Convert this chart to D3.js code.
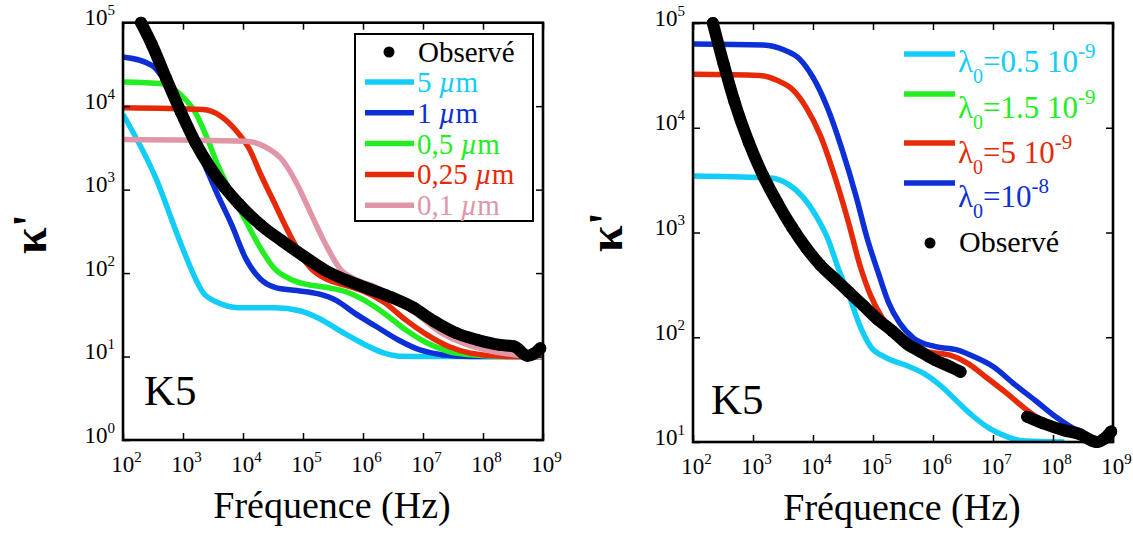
<!DOCTYPE html>
<html><head><meta charset="utf-8">
<script src="https://cdn.jsdelivr.net/npm/d3@7"></script>
<style>
html,body{margin:0;padding:0;background:#fff;}
svg{display:block;}
svg text{font-family:"Liberation Serif","DejaVu Serif","Times New Roman",Times,serif;}
</style></head>
<body><svg id="chart" width="1133" height="533"></svg>
<script>
// ---------- data ----------
const freqTicks = [1e2,1e3,1e4,1e5,1e6,1e7,1e8,1e9];
const freqExp = [2,3,4,5,6,7,8,9];
const leftYTicks = [1,10,100,1e3,1e4,1e5];
const leftYExp = [0,1,2,3,4,5];
const rightYTicks = [10,100,1e3,1e4,1e5];
const rightYExp = [1,2,3,4,5];
const xLabel = "Fréquence (Hz)";
const yLabel = "κ'";
const panelTag = "K5";

// Left panel: grain size series [frequency Hz, κ']
const leftNames = ["5", "1", "0,5", "0,25", "0,1"];
const leftColors = ["#12cdf8", "#0c2fd6", "#22ee22", "#e62a08", "#e096a8"];
const left5um = [[100,8000],[347,1410],[933,219],[1620,85.1],[2140,58.9],[3720,44.7],[8510,38.5],[33900,38.5],[91200,35.1],[182000,28.8],[479000,19.1],[955000,14.5],[2.24e6,11],[3.89e6,10.1],[1.55e7,10],[1e9,10]];
const left1um = [[100,38900],[302,30900],[603,16200],[1230,5750],[2140,2240],[3720,891],[6460,380],[11200,148],[19500,85.1],[33900,67.6],[79400,61.7],[182000,56.2],[363000,46.8],[724000,33.1],[1.66e6,22.9],[3.89e6,15.8],[8.91e6,12],[2.04e7,10.5],[6.17e7,10],[1e9,10]];
const left05um = [[100,19500],[457,18600],[933,13500],[1620,8320],[2450,4370],[3720,2040],[6460,891],[11200,417],[19500,200],[33900,112],[60300,85.1],[105000,74.1],[240000,67.6],[550000,58.9],[955000,49],[2.24e6,33.1],[5.13e6,20.9],[1.17e7,14.5],[2.69e7,11.5],[6.17e7,10.5],[2.51e8,10],[1e9,10]];
const left025um = [[100,9550],[2140,9120],[4270,7590],[7410,5250],[12900,3020],[19500,1550],[33900,676],[60300,288],[91200,166],[138000,112],[240000,85.1],[417000,74.1],[955000,61.7],[2.24e6,44.7],[5.13e6,27.5],[1.17e7,18.2],[2.69e7,13.2],[6.17e7,11],[2.51e8,10],[1e9,10]];
const left01um = [[100,3980],[11200,3800],[22400,3310],[45700,2240],[79400,1170],[138000,501],[240000,219],[417000,112],[724000,85.1],[1.66e6,67.6],[3.89e6,49],[8.91e6,30.2],[2.04e7,19.1],[4.68e7,14.5],[1.1e8,12],[3.31e8,10.5],[1e9,10]];
const leftObserved = [[200,1e5],[302,55000],[525,21400],[933,8320],[1620,3630],[2820,1860],[4900,1070],[8510,676],[19500,380],[45700,240],[105000,158],[240000,107],[550000,81.3],[1.26e6,64.6],[2.95e6,51.3],[6.76e6,38.9],[1.55e7,26.3],[3.55e7,19.1],[8.13e7,15.8],[1.91e8,13.8],[3.31e8,13.2],[5.5e8,10.2],[7e8,10.8],[9e8,12.6]];

// Right panel: λ0 series [frequency Hz, κ']
const rightNames = ["0.5 10", "1.5 10", "5 10", "10"];
const rightExps = ["-9", "-9", "-9", "-8"];
const rightColors = ["#12cdf8", "#22ee22", "#e62a08", "#0c2fd6"];
const rightL05 = [[100,3470],[1950,3310],[3890,2880],[6760,2190],[11500,1410],[17400,891],[26300,457],[39800,251],[60300,129],[91200,81.3],[158000,64.6],[363000,53.7],[724000,44.7],[1.45e6,33.1],[2.51e6,24.5],[4.37e6,18.2],[8.71e6,13.5],[1.74e7,11.2],[3.47e7,10.2],[1.55e8,10]];
const rightL5 = [[100,32400],[1290,31600],[2570,28200],[4470,23400],[7760,15500],[13200,8510],[22900,3470],[39800,1200],[60300,490],[91200,251],[138000,158],[209000,117],[363000,87.1],[832000,72.4],[1.91e6,67.6],[3.8e6,56.2],[7.59e6,41.7],[1.74e7,28.8],[3.98e7,19.5],[8.91e7,14.5],[2.04e8,12.6],[4.68e8,10.7],[1e9,10]];
const rightL10 = [[100,63100],[1480,61700],[3390,55000],[5890,45700],[1e4,30200],[17400,15500],[30200,6310],[52500,2190],[79400,891],[120000,427],[182000,214],[275000,138],[479000,97.7],[1.1e6,81.3],[2.51e6,75.9],[5.01e6,64.6],[1e7,52.5],[2.29e7,35.5],[5.25e7,24.5],[1.17e8,17],[2.69e8,12.6],[5.37e8,10.7],[1e9,10]];
const rightObservedA = [[214,1e5],[324,40700],[490,17800],[851,7240],[1480,3470],[2570,1910],[4470,1120],[7760,708],[13200,490],[22900,363],[39800,269],[69200,200],[120000,148],[209000,115],[363000,87.1],[631000,72.4],[1.1e6,60.3],[1.91e6,52.5],[2.88e6,46.8]];
const rightObservedB = [[3.72e7,17.4],[6.76e7,15.1],[1.55e8,12.9],[2.69e8,12],[5.37e8,10],[7.08e8,10.7],[9.33e8,12.6]];

// ---------- drawing ----------
const svg = d3.select("#chart");
const FONT = 'Liberation Serif';

function txt(sel) { return sel.attr("font-family", FONT); }

function drawPanel(p) {
  const x = d3.scaleLog().domain([1e2, 1e9]).range([p.x0, p.x1]);
  const y = d3.scaleLog().domain(p.yDomain).range([p.y1, p.y0]);
  const g = svg.append("g");
  const clipId = "clip" + p.id;
  svg.append("clipPath").attr("id", clipId).append("rect")
    .attr("x", p.x0).attr("y", p.y0).attr("width", p.x1 - p.x0).attr("height", p.y1 - p.y0);

  const line = d3.line().x(d => x(d[0])).y(d => y(d[1])).curve(d3.curveMonotoneX);
  p.series.forEach(s => {
    g.append("path").datum(s.data).attr("d", line).attr("fill", "none")
      .attr("stroke", s.color).attr("stroke-width", 5.5)
      .attr("stroke-linejoin", "round").attr("clip-path", `url(#${clipId})`);
  });
  p.observed.forEach(obs => {
    g.append("path").datum(obs).attr("d", line).attr("fill", "none")
      .attr("stroke", "#000").attr("stroke-width", 12)
      .attr("stroke-linecap", "round").attr("stroke-linejoin", "round");
    g.selectAll(null).data(obs).enter().append("circle")
      .attr("cx", d => x(d[0])).attr("cy", d => y(d[1])).attr("r", 6).attr("fill", "#000");
  });

  const tk = 7;
  const ax = [
    [d3.axisBottom(x).tickValues(freqTicks), `translate(0,${p.y1})`, true],
    [d3.axisTop(x).tickValues(freqTicks), `translate(0,${p.y0})`, false],
  ];
  ax.forEach(([a, tr, lab]) => {
    const ag = g.append("g").attr("transform", tr)
      .call(a.tickSizeInner(-tk).tickSizeOuter(0).tickFormat(""));
    ag.select(".domain").remove();
    ag.selectAll(".tick line").attr("stroke", "#000").attr("stroke-width", 1.5);
    if (lab) {
      const t = txt(ag.selectAll(".tick").append("text")).attr("fill", "#000")
        .attr("y", 32).attr("x", 3).attr("text-anchor", "middle").attr("font-size", 23);
      t.append("tspan").text("10");
      t.append("tspan").attr("dy", -10).attr("font-size", 15).text(d => freqExp[freqTicks.indexOf(d)]);
    }
  });
  const ay = [
    [d3.axisLeft(y).tickValues(p.yTicks), `translate(${p.x0},0)`, true],
    [d3.axisRight(y).tickValues(p.yTicks), `translate(${p.x1},0)`, false],
  ];
  ay.forEach(([a, tr, lab]) => {
    const ag = g.append("g").attr("transform", tr)
      .call(a.tickSizeInner(-tk).tickSizeOuter(0).tickFormat(""));
    ag.select(".domain").remove();
    ag.selectAll(".tick line").attr("stroke", "#000").attr("stroke-width", 1.5);
    if (lab) {
      const t = txt(ag.selectAll(".tick").append("text")).attr("fill", "#000")
        .attr("x", -8).attr("y", 2).attr("text-anchor", "end").attr("font-size", 23);
      t.append("tspan").text("10");
      t.append("tspan").attr("dy", -10).attr("font-size", 15).text(d => p.yExp[p.yTicks.indexOf(d)]);
    }
  });

  g.append("rect").attr("x", p.x0).attr("y", p.y0).attr("width", p.x1 - p.x0).attr("height", p.y1 - p.y0)
    .attr("fill", "none").attr("stroke", "#000").attr("stroke-width", 2.6);

  txt(g.append("text")).attr("x", (p.x0 + p.x1) / 2 - 1).attr("y", p.y1 + 78).attr("text-anchor", "middle")
    .attr("font-size", 38).text(xLabel);
  txt(g.append("text")).attr("transform", `translate(${p.ylx},${p.yly}) rotate(-90)`).attr("text-anchor", "middle")
    .attr("font-size", 48).attr("font-weight", "bold").text(yLabel);
  txt(g.append("text")).attr("x", p.tagX).attr("y", p.tagY).attr("font-size", 43).text(panelTag);
}

const leftData = [left5um, left1um, left05um, left025um, left01um];
drawPanel({
  id: "L", x0: 123, x1: 543, y0: 22.7, y1: 440, yDomain: [1, 1e5],
  yTicks: leftYTicks, yExp: leftYExp,
  series: leftData.map((d, i) => ({data: d, color: leftColors[i]})),
  observed: [leftObserved],
  ylx: 46, yly: 234, tagX: 144, tagY: 405
});
const rightData = [rightL05, rightL5, rightL10];
const rightDataColors = [rightColors[0], rightColors[2], rightColors[3]];
drawPanel({
  id: "R", x0: 693, x1: 1113, y0: 23, y1: 442, yDomain: [10, 1e5],
  yTicks: rightYTicks, yExp: rightYExp,
  series: rightData.map((d, i) => ({data: d, color: rightDataColors[i]})),
  observed: [rightObservedA, rightObservedB],
  ylx: 622, yly: 232, tagX: 711, tagY: 414
});

// ---------- left legend ----------
const lg = svg.append("g");
lg.append("rect").attr("x", 355).attr("y", 34).attr("width", 178).attr("height", 187)
  .attr("fill", "#fff").attr("stroke", "#000").attr("stroke-width", 2);
lg.append("circle").attr("cx", 389).attr("cy", 52).attr("r", 5.5).attr("fill", "#000");
txt(lg.append("text")).attr("x", 418).attr("y", 62).attr("font-size", 29).text("Observé");
leftNames.forEach((n, i) => {
  const by = 92 + i * 30.8;
  lg.append("line").attr("x1", 365).attr("x2", 414).attr("y1", by - 10).attr("y2", by - 10)
    .attr("stroke", leftColors[i]).attr("stroke-width", 5.5);
  const t = txt(lg.append("text")).attr("x", 417).attr("y", by).attr("fill", leftColors[i]).attr("font-size", 29);
  t.append("tspan").text(n + " ");
  t.append("tspan").attr("font-style", "italic").text("µ");
  t.append("tspan").text("m");
});

// ---------- right legend ----------
const rg = svg.append("g");
const rLineY = [54, 94, 143, 183];
const rBase = [72, 118, 163, 207];
rightNames.forEach((n, i) => {
  rg.append("line").attr("x1", 904).attr("x2", 955).attr("y1", rLineY[i]).attr("y2", rLineY[i])
    .attr("stroke", rightColors[i]).attr("stroke-width", 5.5);
  const t = txt(rg.append("text")).attr("x", 958).attr("y", rBase[i]).attr("fill", rightColors[i]).attr("font-size", 31);
  t.append("tspan").text("λ");
  t.append("tspan").attr("dy", 11).attr("font-size", 20).text("0");
  t.append("tspan").attr("dy", -11).text("=" + n);
  t.append("tspan").attr("dy", -14).attr("font-size", 21).text(rightExps[i]);
});
rg.append("circle").attr("cx", 930).attr("cy", 243).attr("r", 5.5).attr("fill", "#000");
txt(rg.append("text")).attr("x", 959).attr("y", 252).attr("font-size", 30).text("Observé");
</script></body></html>
